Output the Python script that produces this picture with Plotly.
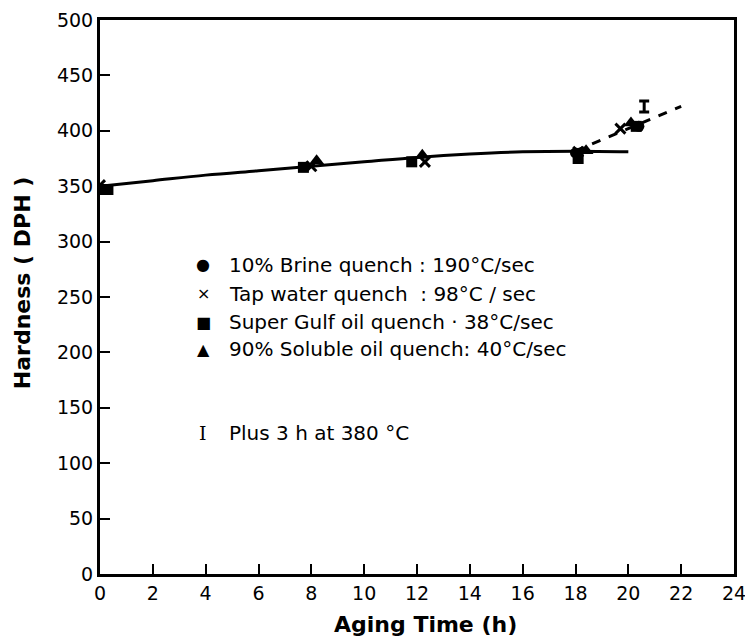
import plotly.graph_objects as go

# Fitted curves
curve_t = [0, 2, 4, 6, 8, 10, 12, 14, 16, 18, 20]
curve_h = [350, 355, 360, 364, 368, 372, 376, 379, 381, 381.5, 381]
dash_t = [18, 22]
dash_h = [382, 422]

# Data series (time h, hardness DPH)
brine_t = [0.1, 18.0, 20.4]
brine_h = [347, 380, 404]
tap_t = [0.0, 8.0, 12.3, 18.1, 19.7]
tap_h = [351, 368, 372, 381, 402]
gulf_t = [0.3, 7.7, 11.8, 18.1, 20.3]
gulf_h = [347, 367, 372, 375, 404]
soluble_t = [0.0, 8.2, 12.2, 18.4, 20.1]
soluble_h = [345, 373, 378, 382, 407]
extra_t = [20.6]
extra_h = [422]
extra_err = [5]

x_ticks = list(range(0, 25, 2))
y_ticks = list(range(0, 501, 50))

legend_rows = [
    ("●", "10% Brine quench : 190°C/sec"),
    ("×", "Tap water quench  : 98°C / sec"),
    ("■", "Super Gulf oil quench · 38°C/sec"),
    ("▲", "90% Soluble oil quench: 40°C/sec"),
]

FONT = "DejaVu Sans"
fig = go.Figure()
fig.add_trace(go.Scatter(x=curve_t, y=curve_h, mode="lines", line=dict(color="black", width=3, shape="spline")))
fig.add_trace(go.Scatter(x=dash_t, y=dash_h, mode="lines", line=dict(color="black", width=3, dash="dash")))
fig.add_trace(go.Scatter(x=brine_t, y=brine_h, mode="markers", marker=dict(symbol="circle", size=11, color="black")))
fig.add_trace(go.Scatter(x=tap_t, y=tap_h, mode="markers", marker=dict(symbol="x-thin", size=10, color="black", line=dict(width=3, color="black"))))
fig.add_trace(go.Scatter(x=gulf_t, y=gulf_h, mode="markers", marker=dict(symbol="square", size=11, color="black")))
fig.add_trace(go.Scatter(x=soluble_t, y=soluble_h, mode="markers", marker=dict(symbol="triangle-up", size=13, color="black")))
fig.add_trace(go.Scatter(x=extra_t, y=extra_h, mode="markers", marker=dict(size=1, color="black"),
                         error_y=dict(type="data", array=extra_err, color="black", thickness=3, width=5)))

# legend as text
leg_y = [279, 253, 227, 203]
for (sym, txt), yv in zip(legend_rows, leg_y):
    fig.add_annotation(x=3.9, y=yv, xref="x", yref="y", text=sym, showarrow=False,
                       font=dict(family=FONT, size=16, color="black"), xanchor="center", yanchor="middle")
    fig.add_annotation(x=4.8, y=yv, xref="x", yref="y", text=txt, showarrow=False,
                       font=dict(family=FONT, size=20, color="black"), xanchor="left", yanchor="middle")
fig.add_annotation(x=3.9, y=127, xref="x", yref="y", text="I", showarrow=False,
                   font=dict(family="DejaVu Serif", size=19, color="black"), xanchor="center", yanchor="middle")
fig.add_annotation(x=4.8, y=127, xref="x", yref="y", text="Plus 3 h at 380 °C", showarrow=False,
                   font=dict(family=FONT, size=20, color="black"), xanchor="left", yanchor="middle")

# axis titles
fig.add_annotation(x=-0.123, y=0.525, xref="paper", yref="paper", text="<b>Hardness ( DPH )</b>", textangle=-90,
                   showarrow=False, font=dict(family=FONT, size=22, color="black"), xanchor="center", yanchor="middle")
fig.add_annotation(x=0.513, y=-0.092, xref="paper", yref="paper", text="<b>Aging Time (h)</b>",
                   showarrow=False, font=dict(family=FONT, size=22, color="black"), xanchor="center", yanchor="middle")

axis_common = dict(showline=True, linecolor="black", linewidth=3, mirror=True, ticks="inside",
                   ticklen=10, tickwidth=2, tickcolor="black", showgrid=False, zeroline=False, automargin=False,
                   ticklabeloverflow="allow",
                   tickfont=dict(family=FONT, size=19, color="black"))
fig.update_xaxes(range=[0, 24], tickvals=x_ticks, ticktext=[str(v) for v in x_ticks], **axis_common)
fig.update_yaxes(range=[0, 500], tickvals=y_ticks, ticktext=[str(v) for v in y_ticks], **axis_common)
# page body has an 8px margin, so the figure is sized to fit the window
fig.update_layout(width=737, height=628, showlegend=False, plot_bgcolor="white", paper_bgcolor="white",
                  margin=dict(l=92, r=11, t=12, b=62))
fig.write_html("out.html")
